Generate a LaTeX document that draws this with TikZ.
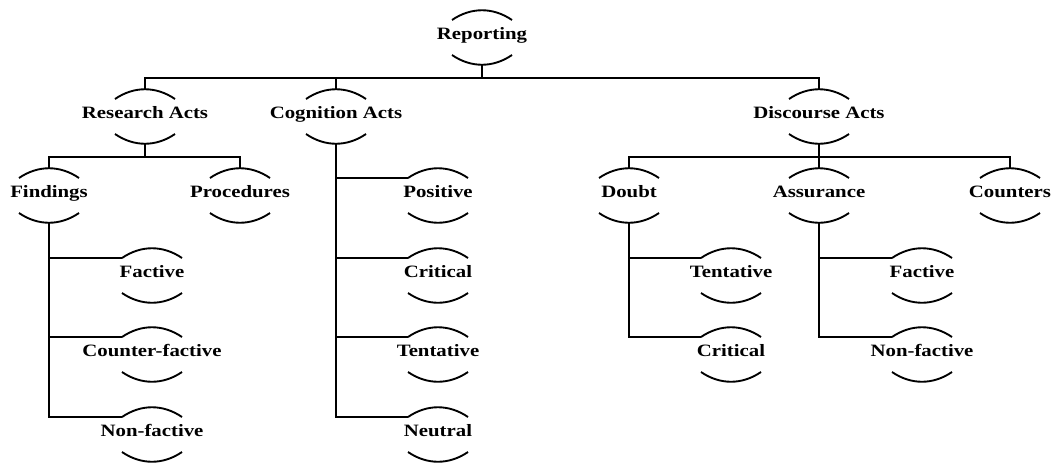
\documentclass[tikz,border=0pt]{standalone}
\usepackage{fontspec}
\setmainfont{Liberation Serif}[FakeStretch=1.2]
\usetikzlibrary{calc}

\begin{document}
\begin{tikzpicture}[x=0.03cm,y=-0.03cm,
  term/.style={font=\bfseries\fontsize{14.8}{17}\selectfont,inner sep=0pt,text height=9.8pt,text depth=0pt},
  arc/.style={line width=1.6pt,black},
  conn/.style={line width=1.8pt,black}]
  \useasboundingbox (0,0) rectangle (1058,464);
  % levels
  \node[term] (rep) at (482,34) {Reporting};
  \node[term] (res) at (145,113) {Research Acts};
  \node[term] (cog) at (336,113) {Cognition Acts};
  \node[term] (dis) at (819,113) {Discourse Acts};
  \node[term] (fin) at (49,192) {Findings};
  \node[term] (pro) at (240,192) {Procedures};
  \node[term] (dou) at (629,192) {Doubt};
  \node[term] (ass) at (819,192) {Assurance};
  \node[term] (cou) at (1010,192) {Counters};
  % findings
  \node[term] (fac) at (152,272) {Factive};
  \node[term] (cfa) at (152,351) {Counter-factive};
  \node[term] (nfa) at (152,431) {Non-factive};
  % cognition
  \node[term] (pos) at (438,192) {Positive};
  \node[term] (cri) at (438,272) {Critical};
  \node[term] (ten) at (438,351) {Tentative};
  \node[term] (neu) at (438,431) {Neutral};
  % doubt and assurance
  \node[term] (dten) at (731,272) {Tentative};
  \node[term] (dcri) at (731,351) {Critical};
  \node[term] (afac) at (922,272) {Factive};
  \node[term] (anfa) at (922,351) {Non-factive};
  % arcs round every term
  \foreach \n in {rep,res,cog,dis,fin,pro,dou,ass,cou,fac,cfa,nfa,pos,cri,ten,neu,dten,dcri,afac,anfa}{
    \draw[arc] ($(\n)+(-30,-14)$) .. controls +(19,-13) and +(-19,-13) .. +(60,0);
    \draw[arc] ($(\n)+(-30,21)$) .. controls +(19,13) and +(-19,13) .. +(60,0);
  }
  % tree links
  \draw[conn] ($(rep)+(0,31)$) -- ($(rep)+(0,44)$);
  \draw[conn] ($(res)+(0,-23)$) |- ($(dis)+(0,-35)$) -- ($(dis)+(0,-23)$);
  \draw[conn] ($(cog)+(0,-23)$) -- ($(cog)+(0,-35)$);
  \draw[conn] ($(res)+(0,31)$) -- ($(res)+(0,44)$);
  \draw[conn] ($(fin)+(0,-23)$) |- ($(pro)+(0,-35)$) -- ($(pro)+(0,-23)$);
  \draw[conn] ($(dis)+(0,31)$) -- ($(dis)+(0,44)$);
  \draw[conn] ($(dou)+(0,-23)$) |- ($(cou)+(0,-35)$) -- ($(cou)+(0,-23)$);
  \draw[conn] ($(ass)+(0,-23)$) -- ($(ass)+(0,-35)$);
  % list links
  \foreach \c in {fac,cfa,nfa}
    \draw[conn] ($(\c)+(-30,-14)$) -| ($(fin)+(0,31)$);
  \foreach \c in {pos,cri,ten,neu}
    \draw[conn] ($(\c)+(-30,-14)$) -| ($(cog)+(0,31)$);
  \foreach \c in {dten,dcri}
    \draw[conn] ($(\c)+(-30,-14)$) -| ($(dou)+(0,31)$);
  \foreach \c in {afac,anfa}
    \draw[conn] ($(\c)+(-30,-14)$) -| ($(ass)+(0,31)$);
\end{tikzpicture}
\end{document}
